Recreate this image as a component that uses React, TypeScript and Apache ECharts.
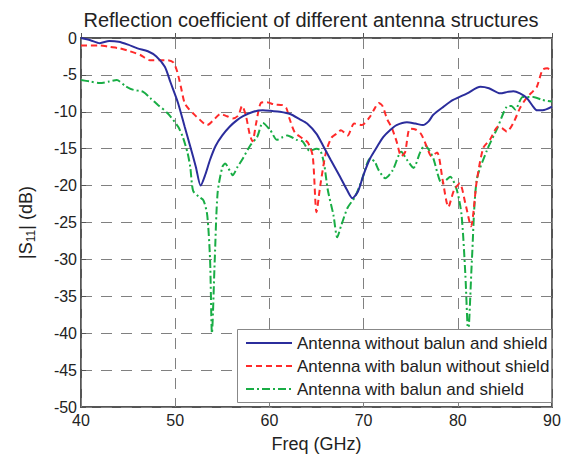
import React, { useEffect, useRef } from "react";
import * as echarts from "echarts";

const seriesNames = [
  "Antenna without balun and shield",
  "Antenna with balun without shield",
  "Antenna with balun and shield",
];

const xTicks = [40, 50, 60, 70, 80, 90];
const yTicks = [0, -5, -10, -15, -20, -25, -30, -35, -40, -45, -50];

const blue: [number, number][] = [
  [40, 0], [41, -0.3], [42, -0.7], [43, -0.4], [44, -0.5], [45, -0.9], [46, -1.4],
  [47.1, -1.8], [48, -2.5], [48.9, -3.9], [49.5, -6], [50.3, -8.8], [51, -12],
  [51.6, -14.7], [52.2, -17.5], [52.7, -20], [53.2, -18.5], [53.7, -16.5], [54.3, -14.6],
  [55, -13.2], [55.8, -12], [56.5, -11.2], [57.2, -10.6], [58.3, -10], [59.3, -9.8],
  [60.3, -9.9], [61.1, -10], [62.2, -10.3], [63.2, -11], [64, -11.6], [65, -13],
  [65.7, -14.6], [66.5, -16.5], [67.5, -18.8], [68.2, -20.5], [68.8, -21.7], [69.4, -20.8],
  [70, -18.5], [70.7, -16.3], [71.4, -14.8], [72.1, -13.4], [72.8, -12.5], [73.5, -11.8],
  [74.6, -11.4], [75.5, -11.6], [76.3, -11.8], [76.9, -11.3], [77.4, -10.4], [78.5, -9.3],
  [79.5, -8.4], [81, -7.5], [82.4, -6.6], [83.3, -6.8], [84.5, -7.5], [85.3, -7.3],
  [85.9, -7.2], [86.6, -7.5], [87.3, -8.1], [88, -9.3], [88.4, -9.8], [89, -9.8], [90, -9.3],
];

const red: [number, number][] = [
  [40, -1], [41, -1], [42, -1], [43, -1.2], [44.1, -1.4], [45.2, -1.8], [46.3, -2.3],
  [47.3, -3], [48.4, -3], [49.2, -3], [49.8, -3.3], [50.2, -4.5], [50.6, -6.6], [51, -8.8],
  [51.5, -9.7], [51.9, -10.2], [52.3, -10.7], [53.4, -11.8], [54, -11.2], [54.8, -10.3],
  [55.5, -10.6], [56.1, -10.9], [56.7, -10.5], [57.1, -9.2], [57.5, -10.5], [57.9, -13],
  [58.2, -14], [58.6, -11.5], [59.1, -8.8], [59.7, -8.7], [60.5, -9], [61.4, -9.1],
  [61.8, -9.5], [62.1, -10.8], [62.7, -12.8], [63.5, -13.6], [64.1, -14.2], [64.6, -16],
  [65, -23.6], [65.4, -20], [66, -15.5], [66.6, -13.5], [67.2, -12.9], [67.6, -12.5],
  [68.3, -13.2], [69, -11.6], [69.8, -11.8], [70.6, -10.8], [71.2, -9.5], [71.6, -8.8],
  [72, -9.2], [72.5, -11], [73, -12.2], [73.5, -14], [74, -16], [74.4, -15.5], [74.9, -12.3],
  [75.5, -12.4], [76.1, -13], [76.7, -14.7], [77.2, -16], [77.8, -15.5], [78.4, -19.3],
  [79, -22.9], [79.6, -20.6], [80.2, -19.7], [80.8, -22.4], [81.4, -25.5], [82, -19.5],
  [82.7, -14.9], [83.4, -13.8], [84.3, -12], [84.8, -12.3], [85.2, -12.7], [85.9, -11.5],
  [86.6, -9.5], [87.3, -8.1], [88, -7.2], [88.4, -6.6], [89, -4.3], [89.5, -4.1], [90, -4.6],
];

const green: [number, number][] = [
  [40, -5.7], [41, -5.9], [42, -6.1], [43, -5.9], [43.8, -5.7], [44.7, -6.5], [45.5, -7],
  [46.6, -7.3], [47.4, -8.2], [48.2, -9.1], [49.2, -10.2], [50.3, -12], [50.8, -13.4],
  [51.3, -15.5], [51.6, -17.5], [51.9, -20.7], [52.5, -21.5], [53, -22], [53.4, -24],
  [53.7, -30], [53.9, -40], [54.2, -30], [54.5, -21], [55, -17.5], [55.3, -17], [55.8, -18],
  [56.1, -18.6], [56.6, -17.5], [57.1, -16.5], [58, -14.5], [58.7, -13.4], [59.3, -11.5],
  [60.1, -12.5], [60.8, -13.8], [61.3, -13.5], [61.9, -13.2], [62.9, -13.8], [63.5, -14],
  [64.3, -15.3], [65, -15], [65.4, -15.2], [65.8, -17], [66.2, -20.6], [66.8, -24],
  [67.2, -27], [67.6, -25.5], [68.3, -23], [69.1, -21.5], [69.8, -19.3], [70.7, -16.3],
  [71.2, -16.8], [71.6, -17.9], [72.3, -19], [73.1, -17.9], [74, -15.4], [74.6, -16.5],
  [75.3, -17.6], [76, -15.5], [76.5, -14.5], [77, -15.3], [77.4, -16.3], [78.3, -19.7],
  [78.8, -19.2], [79.2, -18.8], [79.9, -20.6], [80.4, -24], [80.8, -32], [81.1, -40],
  [81.5, -30], [82, -19.3], [83.1, -15.2], [84.2, -12.2], [85.2, -9.3], [85.7, -9.2],
  [86.1, -9.7], [86.9, -8], [88, -8], [89, -8.4], [90, -8.6],
];

const colors = ["#2b2d9c", "#ff2a2a", "#19ad45"];
const lineTypes: any[] = ["solid", [6, 4], [8, 3, 2, 3]];

export default function App() {
  const ref = useRef<HTMLDivElement>(null);
  useEffect(() => {
    if (!ref.current) return;
    const chart = echarts.init(ref.current, null, { renderer: "svg" });
    const font = "Liberation Sans, Arial, sans-serif";
    const data = [blue, red, green];

    const legendLeft = 237;
    const legendTop = 329;
    const legendW = 314;
    const legendH = 73;
    const rowY = [343, 366, 389];
    const legendGraphics: any[] = [
      {
        type: "rect",
        left: legendLeft,
        top: legendTop,
        shape: { width: legendW, height: legendH },
        style: { fill: "#fff", stroke: "#888", lineWidth: 1 },
        z: 100,
      },
    ];
    seriesNames.forEach((n, i) => {
      legendGraphics.push({
        type: "line",
        shape: { x1: 246, y1: rowY[i], x2: 292, y2: rowY[i] },
        style: {
          stroke: colors[i],
          lineWidth: 2,
          lineDash: lineTypes[i] === "solid" ? null : lineTypes[i],
        },
        z: 101,
      });
      legendGraphics.push({
        type: "text",
        x: 297,
        y: rowY[i],
        style: {
          text: n,
          fill: "#222",
          font: `17px ${font}`,
          verticalAlign: "middle",
        },
        z: 101,
      });
    });

    chart.setOption({
      animation: false,
      backgroundColor: "#fff",
      textStyle: { fontFamily: font },
      title: {
        text: "Reflection coefficient of different antenna structures",
        left: 306,
        textAlign: "center",
        top: 5,
        textStyle: { fontSize: 20, fontWeight: "normal", color: "#222", fontFamily: font },
      },
      grid: {
        left: 81,
        right: 14,
        top: 38,
        bottom: 51,
        show: true,
        borderColor: "#555",
        borderWidth: 2,
        backgroundColor: "#fff",
      },
      graphic: legendGraphics,
      xAxis: {
        type: "value",
        min: xTicks[0],
        max: xTicks[xTicks.length - 1],
        interval: 10,
        name: "Freq (GHz)",
        nameLocation: "middle",
        nameGap: 28,
        nameTextStyle: { fontSize: 18, color: "#222", fontFamily: font },
        axisLine: { show: false },
        axisTick: { show: true, inside: true, length: 5, lineStyle: { color: "#555" } },
        axisLabel: { fontSize: 16, color: "#222", margin: 5, fontFamily: font },
        splitLine: { show: true, lineStyle: { color: "#808080", type: [11, 9], width: 1 } },
      },
      yAxis: {
        type: "value",
        min: yTicks[yTicks.length - 1],
        max: yTicks[0],
        interval: 5,
        name: "|S{sub|11}| (dB)",
        nameLocation: "middle",
        nameGap: 44,
        nameTextStyle: {
          fontSize: 18,
          color: "#222",
          fontFamily: font,
          rich: {
            sub: { fontSize: 12, verticalAlign: "bottom", padding: [10, 0, 0, 0], color: "#222", fontFamily: font },
          },
        },
        axisLine: { show: false },
        axisTick: { show: true, inside: true, length: 5, lineStyle: { color: "#555" } },
        axisLabel: { fontSize: 16, color: "#222", margin: 4, fontFamily: font },
        splitLine: { show: true, lineStyle: { color: "#808080", type: [11, 9], width: 1 } },
      },
      series: data.map((d, i) => ({
        name: seriesNames[i],
        type: "line",
        data: d,
        showSymbol: false,
        symbol: "none",
        smooth: 0.25,
        z: 5 - i,
        lineStyle: { color: colors[i], width: 2, type: lineTypes[i] },
        itemStyle: { color: colors[i] },
      })),
    });
    return () => chart.dispose();
  }, []);
  return (
    <div
      ref={ref}
      style={{ position: "absolute", left: 0, top: 0, width: 566, height: 458 }}
    />
  );
}
